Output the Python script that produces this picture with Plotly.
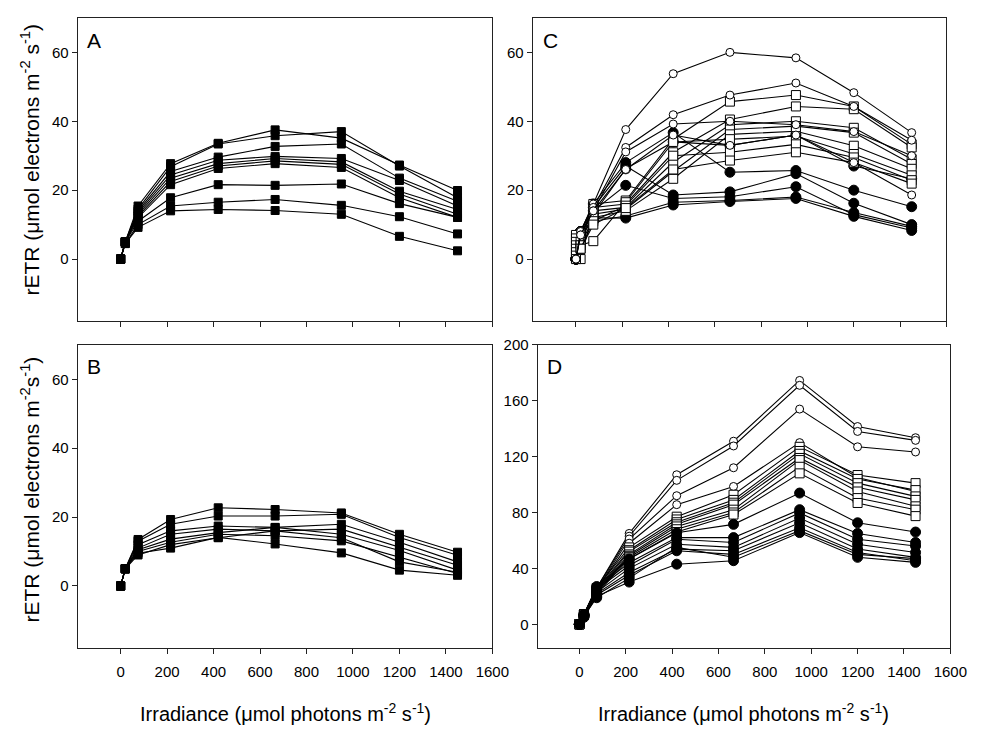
import plotly.graph_objects as go

# Irradiance steps (µmol photons m-2 s-1)
IRR = [0, 20, 75, 215, 420, 665, 950, 1200, 1450]

# Panel A: filled squares
A_SQ = [
    [0, 5, 15.4, 27.7, 33.6, 37.5, 35.1, 27.3, 19.9],
    [0, 5, 14.5, 26.8, 33.4, 35.8, 37.0, 27.0, 17.8],
    [0, 5, 14.0, 25.4, 29.6, 32.7, 33.4, 23.5, 16.8],
    [0, 5, 13.5, 24.4, 28.7, 29.8, 29.2, 22.8, 15.4],
    [0, 5, 13.0, 23.5, 27.7, 29.2, 28.2, 19.7, 14.4],
    [0, 5, 12.5, 22.5, 27.0, 28.5, 27.5, 18.9, 13.0],
    [0, 5, 12.0, 21.6, 26.3, 27.7, 26.6, 17.8, 12.1],
    [0, 5, 11.0, 17.8, 21.6, 21.4, 21.8, 16.1, 12.1],
    [0, 4.5, 10.0, 15.4, 16.5, 17.3, 15.6, 12.3, 7.3],
    [0, 4.5, 9.2, 14.0, 14.4, 14.1, 13.0, 6.6, 2.4],
]

# Panel B: filled squares
B_SQ = [
    [0, 5, 13.5, 19.3, 22.7, 22.2, 21.2, 15.0, 9.8],
    [0, 5, 13.0, 17.9, 20.3, 20.3, 20.8, 14.1, 8.9],
    [0, 5, 12.0, 16.0, 17.4, 17.0, 17.9, 12.7, 7.0],
    [0, 5, 11.0, 15.0, 16.5, 16.0, 16.5, 11.2, 6.0],
    [0, 5, 10.5, 13.6, 15.5, 17.0, 15.0, 10.3, 4.6],
    [0, 5, 10.0, 12.7, 15.0, 14.6, 13.1, 8.4, 3.6],
    [0, 5, 9.5, 11.0, 14.1, 12.2, 9.6, 4.6, 3.1],
    [0, 5, 9.0, 12.0, 14.0, 16.0, 14.0, 7.0, 4.0],
]

# Panel C
C_FC = [  # filled circles
    [0, 8, 16, 28.0, 36.7, 25.2, 25.7, 20.0, 15.2],
    [0, 8, 15, 27.0, 18.6, 19.5, 24.8, 16.2, 10.0],
    [0, 7, 14, 21.4, 17.6, 18.1, 21.0, 12.9, 9.0],
    [0, 7, 12, 11.9, 15.7, 16.7, 17.6, 12.4, 8.3],
    [0, 8, 13, 26.2, 34.0, 33.0, 36.0, 27.0, 23.3],
    [0, 7, 11, 12.5, 16.5, 17.0, 18.0, 13.5, 9.5],
]
C_SQ = [  # open squares
    [7, 6, 16, 17.0, 34.8, 45.7, 47.6, 44.3, 33.3],
    [6, 5, 15, 16.0, 31.0, 40.5, 44.3, 43.5, 32.4],
    [5, 0, 14, 15.0, 28.1, 39.0, 40.0, 38.1, 29.0],
    [4, 5, 13, 14.5, 25.5, 37.6, 38.6, 36.7, 27.6],
    [3, 4, 12, 14.0, 23.3, 36.2, 37.1, 32.9, 26.2],
    [2, 4, 5.2, 16.5, 34.0, 34.8, 35.7, 30.5, 24.3],
    [1, 3, 11, 15.5, 30.0, 31.0, 33.3, 29.5, 22.9],
    [0, 3, 10, 14.8, 26.0, 28.6, 31.0, 28.0, 21.9],
]
C_OC = [  # open circles
    [0, 8, 16, 37.6, 53.8, 60.0, 58.4, 48.3, 36.7],
    [0, 8, 15, 32.4, 41.9, 47.6, 51.1, 44.3, 34.5],
    [0, 7, 14, 31.1, 39.2, 40.0, 39.0, 37.0, 30.0],
    [0, 7, 14, 26.0, 36.0, 33.0, 36.0, 28.0, 18.6],
]

# Panel D
D_FC = [
    [0, 7, 27, 46.7, 65.5, 71.5, 93.9, 72.6, 66.0],
    [0, 7, 26, 44.0, 62.0, 62.0, 82.0, 65.0, 58.5],
    [0, 7, 25, 42.0, 60.8, 58.5, 79.7, 60.8, 56.0],
    [0, 6, 23, 40.0, 57.3, 55.0, 76.0, 57.3, 51.4],
    [0, 6, 22, 37.0, 53.8, 52.6, 72.6, 53.8, 47.9],
    [0, 6, 21, 35.0, 52.6, 50.0, 69.0, 51.4, 45.5],
    [0, 5, 20, 30.2, 43.0, 45.5, 65.6, 47.9, 44.3],
    [0, 6, 19, 33.0, 55.0, 48.0, 67.0, 50.0, 47.0],
]
D_SQ = [
    [0, 7, 26, 55.0, 77.0, 92.7, 127.0, 106.8, 101.0],
    [0, 7, 25, 53.0, 75.0, 89.0, 124.0, 104.0, 96.0],
    [0, 7, 24, 52.0, 73.0, 87.0, 122.0, 101.0, 91.5],
    [0, 7, 24, 50.0, 71.5, 85.6, 119.0, 98.0, 89.0],
    [0, 7, 23, 49.0, 70.0, 82.0, 117.5, 95.0, 84.4],
    [0, 7, 23, 48.0, 68.0, 80.0, 112.7, 90.3, 82.0],
    [0, 7, 22, 47.0, 66.0, 78.5, 108.0, 86.8, 77.4],
]
D_OC = [
    [0, 7, 26, 65.0, 107.0, 131.0, 174.5, 141.5, 133.5],
    [0, 7, 26, 63.0, 103.0, 127.6, 171.0, 138.0, 131.6],
    [0, 7, 25, 61.0, 92.0, 112.0, 154.0, 127.0, 123.3],
    [0, 7, 25, 58.0, 85.6, 98.6, 130.0, 105.0, 95.0],
]

X_TICKS = [0, 200, 400, 600, 800, 1000, 1200, 1400, 1600]

W, H = 987, 729
FONT = "Liberation Sans, Arial, sans-serif"

STYLE = {
    "fsq": dict(symbol="square", size=8, color="black", line=dict(color="black", width=1)),
    "osq": dict(symbol="square", size=9, color="white", line=dict(color="black", width=1)),
    "oc": dict(symbol="circle", size=8, color="white", line=dict(color="black", width=1)),
    "fc": dict(symbol="circle", size=10, color="black", line=dict(color="black", width=1)),
}

fig = go.Figure()


def add(series, style, ax):
    for s in series:
        fig.add_trace(go.Scatter(
            x=IRR, y=s, mode="lines+markers",
            line=dict(color="black", width=1.1),
            marker=STYLE[style],
            xaxis="x" + ax, yaxis="y" + ax,
            showlegend=False, hoverinfo="skip", cliponaxis=False,
        ))


add(A_SQ, "fsq", "")
add(B_SQ, "fsq", "2")
add(C_FC, "fc", "3")
add(C_SQ, "osq", "3")
add(C_OC, "oc", "3")
add(D_OC, "oc", "4")
add(D_SQ, "osq", "4")
add(D_FC, "fc", "4")


def px(x):
    return x / W


def py(y):
    return 1 - y / H


common_axis = dict(showline=True, mirror=True, linecolor="#222", linewidth=1,
                   ticks="outside", ticklen=5, tickcolor="#222", showgrid=False,
                   zeroline=False, tickfont=dict(family=FONT, size=15, color="black"))

panels = {
    "": dict(xd=[79, 501], yd=[9, 316], xr=[-185, 1600], yr=[-18, 70], yt=[0, 20, 40, 60], xl=False),
    "2": dict(xd=[79, 501], yd=[340, 647], xr=[-185, 1600], yr=[-18, 70], yt=[0, 20, 40, 60], xl=True),
    "3": dict(xd=[542, 963], yd=[9, 316], xr=[-187, 1600], yr=[-18, 70], yt=[0, 20, 40, 60], xl=False),
    "4": dict(xd=[547, 967], yd=[340, 647], xr=[-180, 1600], yr=[-17, 200], yt=[0, 40, 80, 120, 160, 200], xl=True),
}

layout = dict(width=W, height=H, margin=dict(l=0, r=0, t=0, b=0),
              plot_bgcolor="white", paper_bgcolor="white",
              font=dict(family=FONT, color="black"))
for k, p in panels.items():
    layout["xaxis" + k] = dict(common_axis, domain=[px(p["xd"][0]), px(p["xd"][1])],
                               range=p["xr"], tickvals=X_TICKS, showticklabels=p["xl"],
                               ticklabelstandoff=5, anchor="y" + k)
    layout["yaxis" + k] = dict(common_axis, domain=[py(p["yd"][1]), py(p["yd"][0])],
                               range=p["yr"], tickvals=p["yt"], anchor="x" + k)
fig.update_layout(**layout)

ann = []


def note(text, x, y, size, angle=0):
    ann.append(dict(text=text, x=px(x), y=py(y), xref="paper", yref="paper",
                    xanchor="center", yanchor="middle", showarrow=False,
                    textangle=angle, font=dict(family=FONT, size=size, color="black")))


for letter, x, y in [("A", 96, 32), ("B", 96, 362), ("C", 560, 32), ("D", 564, 362)]:
    note(letter, x, y, 21)
note("rETR (\u03bcmol electrons m<sup>-2</sup> s<sup>-1</sup>)", 31, 152, 21, -90)
note("rETR (\u03bcmol electrons m<sup>-2</sup>s<sup>-1</sup>)", 31, 486, 21, -90)
for xc in (290, 757):
    note("Irradiance (\u03bcmol photons m<sup>-2</sup> s<sup>-1</sup>)", xc, 712, 20)
fig.update_layout(annotations=ann)

fig.write_html("out.html")
